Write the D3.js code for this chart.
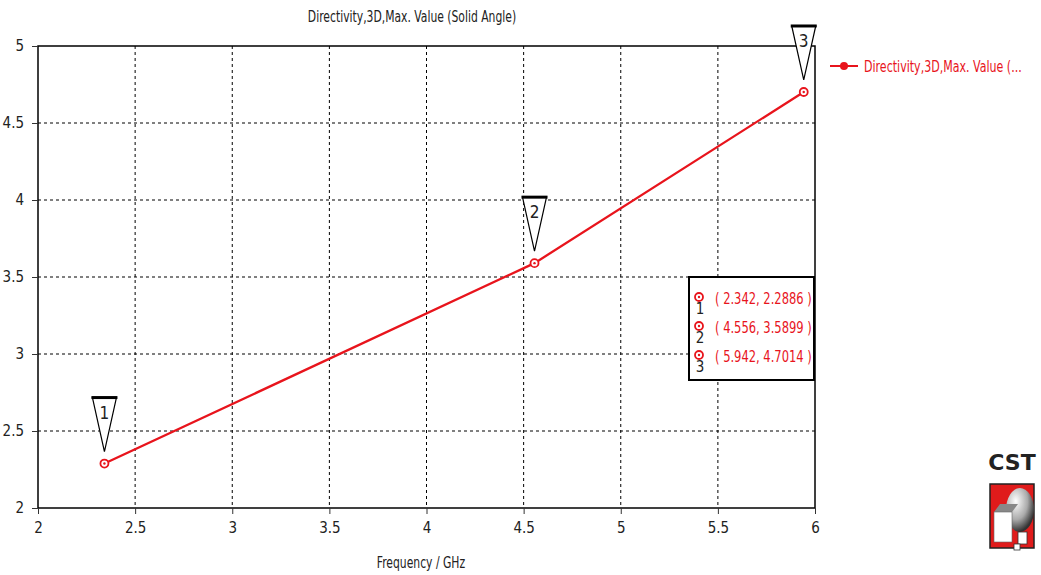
<!DOCTYPE html>
<html lang="en">
<head>
<meta charset="UTF-8">
<title>Directivity vs Frequency</title>
<script src="https://cdnjs.cloudflare.com/ajax/libs/d3/7.8.5/d3.min.js"></script>
<style>
    * { margin: 0; padding: 0; }
    body { background: #fff; width: 1041px; height: 575px; overflow: hidden; }
    svg { font-family: 'DejaVu Sans Condensed', 'DejaVu Sans', sans-serif; }
</style>
</head>
<body>
<div id="chart"></div>
<script>
    // data
    const freq = [2.342, 4.556, 5.942];
    const directivity = [2.2886, 3.5899, 4.7014];
    const markerIds = ["1", "2", "3"];
    const xTicks = [2, 2.5, 3, 3.5, 4, 4.5, 5, 5.5, 6];
    const yTicks = [2, 2.5, 3, 3.5, 4, 4.5, 5];
    const titleText = "Directivity,3D,Max. Value (Solid Angle)";
    const xLabel = "Frequency / GHz";
    const legendLabel = "Directivity,3D,Max. Value (...";

    const W = 1041, H = 575;
    const margin = { left: 38, right: 226, top: 46, bottom: 67 };
    const red = "#e8141c";

    const svg = d3.select("#chart").append("svg")
        .attr("width", W).attr("height", H);

    const x = d3.scaleLinear().domain([2, 6]).range([margin.left, W - margin.right]);
    const y = d3.scaleLinear().domain([2, 5]).range([H - margin.bottom, margin.top]);

    // narrow text: the CST font is narrower than DejaVu, so squeeze it sideways
    function label(g, tx, ty, str, size, sx, anchor, color) {
        return g.append("text")
            .attr("transform", `translate(${tx},${ty}) scale(${sx},1)`)
            .attr("text-anchor", anchor || "start")
            .attr("font-size", size).attr("fill", color || "#222")
            .text(str);
    }

    // grid
    const grid = svg.append("g");
    grid.selectAll(".gx").data(xTicks.slice(1, -1)).enter().append("line")
        .attr("x1", d => x(d)).attr("x2", d => x(d))
        .attr("y1", y(5)).attr("y2", y(2))
        .attr("stroke", "#000").attr("stroke-width", 1).attr("stroke-dasharray", "3,3");
    grid.selectAll(".gy").data(yTicks.slice(1, -1)).enter().append("line")
        .attr("x1", x(2)).attr("x2", x(6))
        .attr("y1", d => y(d)).attr("y2", d => y(d))
        .attr("stroke", "#000").attr("stroke-width", 1).attr("stroke-dasharray", "3,3");

    // frame
    svg.append("rect")
        .attr("x", x(2)).attr("y", y(5))
        .attr("width", x(6) - x(2)).attr("height", y(2) - y(5))
        .attr("fill", "none").attr("stroke", "#000").attr("stroke-width", 1.5);

    // axes
    const xAxis = svg.append("g")
        .attr("transform", `translate(0,${y(2)})`)
        .call(d3.axisBottom(x).tickValues(xTicks).tickSize(6).tickPadding(8).tickFormat(d3.format("")));
    const yAxis = svg.append("g")
        .attr("transform", `translate(${x(2)},0)`)
        .call(d3.axisLeft(y).tickValues(yTicks).tickSize(6).tickPadding(8).tickFormat(d3.format("")));
    [xAxis, yAxis].forEach(a => {
        a.select(".domain").remove();
        a.selectAll("text").attr("font-size", 15).attr("fill", "#222")
            .attr("font-family", "'DejaVu Sans Condensed', sans-serif");
        a.selectAll("line").attr("stroke", "#333");
    });

    // title and axis label
    label(svg, 412, 22, titleText, 15, 0.8, "middle");
    label(svg, 421, 568, xLabel, 15, 0.8, "middle");

    // data line
    const pts = freq.map((f, i) => ({ f: f, v: directivity[i], id: markerIds[i] }));
    svg.append("path").datum(pts)
        .attr("d", d3.line().x(d => x(d.f)).y(d => y(d.v)))
        .attr("fill", "none").attr("stroke", red).attr("stroke-width", 2.3);

    function marker(g, cx, cy) {
        g.append("circle").attr("cx", cx).attr("cy", cy).attr("r", 4)
            .attr("fill", "#fff").attr("stroke", red).attr("stroke-width", 1.8);
        g.append("circle").attr("cx", cx).attr("cy", cy).attr("r", 1.2).attr("fill", red);
    }

    const mk = svg.append("g");
    pts.forEach(p => {
        const cx = x(p.f), cy = y(p.v);
        marker(mk, cx, cy);
        // inverted triangle label
        const tipY = cy - 12, topY = tipY - 54, hw = 12;
        mk.append("path")
            .attr("d", `M${cx - hw},${topY} L${cx + hw},${topY} L${cx},${tipY} Z`)
            .attr("fill", "#fff").attr("stroke", "#000").attr("stroke-width", 1.2);
        mk.append("line").attr("x1", cx - hw - 1).attr("x2", cx + hw + 1)
            .attr("y1", topY).attr("y2", topY).attr("stroke", "#000").attr("stroke-width", 3);
        mk.append("text").attr("x", cx).attr("y", topY + 21).attr("text-anchor", "middle")
            .attr("font-family", "'DejaVu Sans Condensed', sans-serif").attr("font-size", 17)
            .attr("fill", "#222").text(p.id);
    });

    // marker value box
    const box = svg.append("g").attr("transform", "translate(689,277)");
    box.append("rect").attr("width", 125).attr("height", 103)
        .attr("fill", "#fff").attr("stroke", "#000").attr("stroke-width", 2);
    pts.forEach((p, i) => {
        const ry = 21 + i * 29;
        marker(box, 10, ry - 1);
        box.append("text").attr("x", 11).attr("y", ry + 16).attr("text-anchor", "middle")
            .attr("font-family", "'DejaVu Sans Condensed', sans-serif").attr("font-size", 15)
            .attr("fill", "#222").text(p.id);
        label(box, 26, ry + 6, `( ${p.f.toFixed(3)}, ${p.v.toFixed(4)} )`, 16, 0.8, "start", red);
    });

    // legend
    const lg = svg.append("g").attr("transform", "translate(830,66)");
    lg.append("line").attr("x1", 0).attr("x2", 28).attr("y1", 0).attr("y2", 0)
        .attr("stroke", red).attr("stroke-width", 2);
    lg.append("circle").attr("cx", 14).attr("cy", 0).attr("r", 4).attr("fill", red);
    label(lg, 34, 6, legendLabel, 15, 0.82, "start", red);

    // CST logo
    const logo = svg.append("g").attr("transform", "translate(988,440)");
    logo.append("text").attr("x", 24).attr("y", 30).attr("text-anchor", "middle")
        .attr("font-family", "'DejaVu Sans', sans-serif").attr("font-weight", "bold")
        .attr("font-size", 22).attr("fill", "#222").text("CST");
    const defs = svg.append("defs");
    const rg = defs.append("radialGradient").attr("id", "sph").attr("cx", "35%").attr("cy", "30%").attr("r", "70%");
    rg.append("stop").attr("offset", "0%").attr("stop-color", "#fff");
    rg.append("stop").attr("offset", "60%").attr("stop-color", "#aaa");
    rg.append("stop").attr("offset", "100%").attr("stop-color", "#333");
    logo.append("rect").attr("x", 2).attr("y", 44).attr("width", 44).attr("height", 64)
        .attr("fill", "#e01b1b").attr("stroke", "#222").attr("stroke-width", 1.5);
    logo.append("ellipse").attr("cx", 32).attr("cy", 70).attr("rx", 14).attr("ry", 22)
        .attr("fill", "url(#sph)");
    logo.append("path").attr("d", "M6,72 L12,64 L30,64 L24,72 Z").attr("fill", "#888");
    logo.append("rect").attr("x", 6).attr("y", 72).attr("width", 18).attr("height", 30)
        .attr("fill", "#fff").attr("stroke", "#666").attr("stroke-width", 0.6);
    logo.append("rect").attr("x", 30).attr("y", 92).attr("width", 9).attr("height", 12)
        .attr("fill", "#fff").attr("stroke", "#333").attr("stroke-width", 0.8);
    logo.append("rect").attr("x", 26).attr("y", 104).attr("width", 6).attr("height", 6)
        .attr("fill", "#fff").attr("stroke", "#333").attr("stroke-width", 0.8);
</script>
</body>
</html>
